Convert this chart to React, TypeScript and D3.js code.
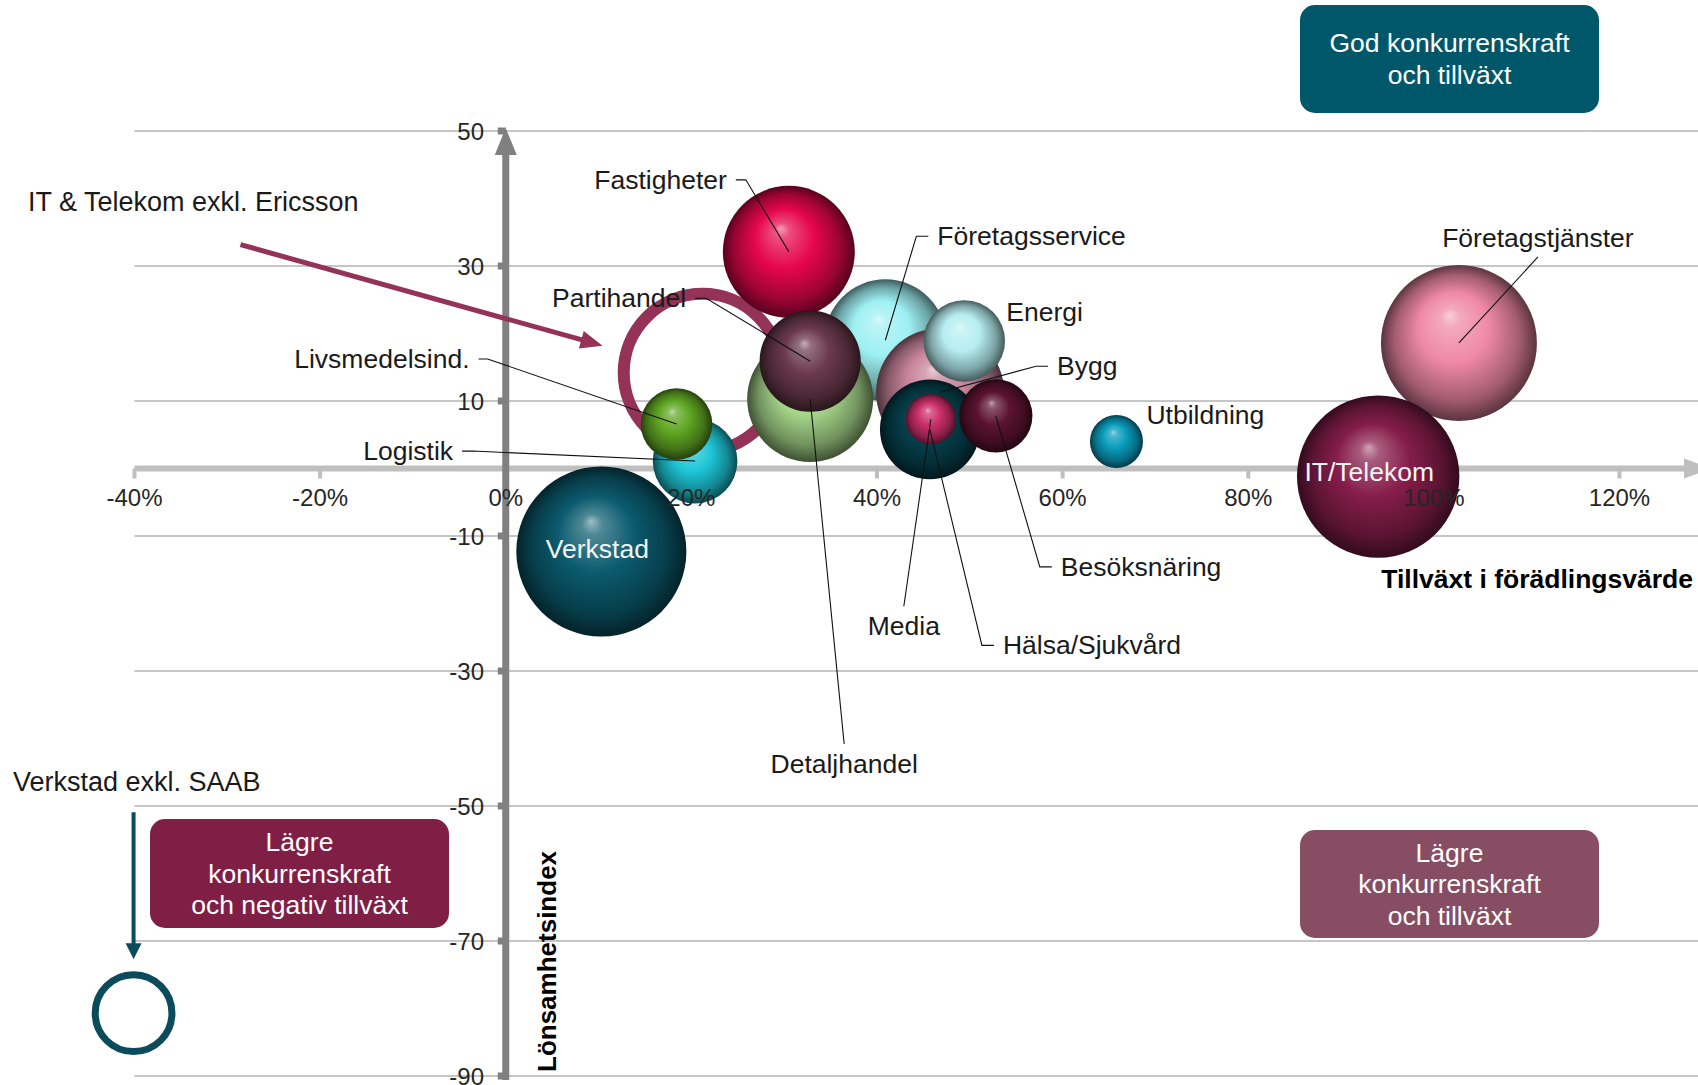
import React from "react";
import * as d3 from "d3";

const W = 1698;
const H = 1085;
const FONT = '"Liberation Sans", Arial, Helvetica, sans-serif';

// sectors, in drawing order (back to front)
const sectors = [
  "Företagsservice",
  "Fastigheter",
  "Detaljhandel",
  "Partihandel",
  "Bygg",
  "Energi",
  "Hälsa/Sjukvård",
  "Media",
  "Besöksnäring",
  "Utbildning",
  "Logistik",
  "Livsmedelsind.",
  "Verkstad",
  "Företagstjänster",
  "IT/Telekom",
];
// Tillväxt i förädlingsvärde (%)
const growth = [40.9, 30.5, 32.8, 32.8, 46.8, 49.4, 45.7, 45.8, 52.8, 65.8, 20.4, 18.4, 10.3, 102.7, 94.0];
// Lönsamhetsindex
const profitability = [19.0, 32.1, 10.3, 15.9, 11.3, 18.9, 5.8, 7.3, 7.8, 4.0, 1.1, 6.6, -12.3, 18.6, -1.2];
// bubble size (förädlingsvärde, relative)
const valueAdded = [58, 68, 62, 40, 64, 26, 39, 10, 21, 11, 28, 20, 113, 95, 103];

// excluded variants drawn as hollow rings
const exclNames = ["IT & Telekom exkl. Ericsson", "Verkstad exkl. SAAB"];
const exclGrowth = [21.2, -40.1];
const exclProfit = [14.2, -80.7];
const exclSize = [97, 23];

const xTicks = [-40, -20, 0, 20, 40, 60, 80, 100, 120];
const yTicks = [50, 30, 10, -10, -30, -50, -70, -90];

const colors: Record<string, string> = {
  "Företagsservice": "#9ef0f3",
  "Fastigheter": "#e6064f",
  "Detaljhandel": "#a6d68a",
  "Partihandel": "#6b3a4c",
  "Bygg": "#c7849b",
  "Energi": "#b6eef1",
  "Hälsa/Sjukvård": "#05404d",
  "Media": "#cc2f6c",
  "Besöksnäring": "#5c1331",
  "Utbildning": "#0a9cbc",
  "Logistik": "#1dc6d6",
  "Livsmedelsind.": "#5fa623",
  "Verkstad": "#0b5b6e",
  "Företagstjänster": "#ef88a9",
  "IT/Telekom": "#861d4b",
};
const exclColors = ["#943258", "#0b4b5b"];

// label placement relative to bubble centre (pixels)
type Lay = {
  dx: number;
  dy: number;
  anchor: "start" | "end" | "middle";
  hook?: number;
  line?: "top" | "bottom";
  inside?: boolean;
};
const layout: Record<string, Lay> = {
  "Fastigheter": { dx: -62, dy: -72, anchor: "end", hook: 10 },
  "Företagsservice": { dx: 52, dy: -104, anchor: "start", hook: 12 },
  "Energi": { dx: 42, dy: -29, anchor: "start" },
  "Bygg": { dx: 117, dy: -26, anchor: "start", hook: 12 },
  "Hälsa/Sjukvård": { dx: 73, dy: 216, anchor: "start", hook: 12 },
  "Media": { dx: -27, dy: 207, anchor: "middle", line: "top" },
  "Besöksnäring": { dx: 65, dy: 151, anchor: "start", hook: 12 },
  "Utbildning": { dx: 30, dy: -27, anchor: "start" },
  "Företagstjänster": { dx: 79, dy: -105, anchor: "middle", line: "bottom" },
  "IT/Telekom": { dx: -9, dy: -5, anchor: "middle", inside: true },
  "Partihandel": { dx: -124, dy: -63, anchor: "end", hook: 11 },
  "Detaljhandel": { dx: 34, dy: 365, anchor: "middle", line: "top" },
  "Livsmedelsind.": { dx: -207, dy: -65, anchor: "end", hook: 9 },
  "Logistik": { dx: -242, dy: -10, anchor: "end", hook: 11 },
  "Verkstad": { dx: -4, dy: -3, anchor: "middle", inside: true },
};

const boxes = [
  { lines: ["God konkurrenskraft", "och tillväxt"], x: 1300, y: 5, w: 299, h: 108, fill: "#01576a" },
  { lines: ["Lägre", "konkurrenskraft", "och tillväxt"], x: 1300, y: 830, w: 299, h: 108, fill: "#874d62" },
  { lines: ["Lägre", "konkurrenskraft", "och negativ tillväxt"], x: 150, y: 819, w: 299, h: 109, fill: "#7f1f45" },
];

const x = d3.scaleLinear().domain([-40, 120]).range([134.5, 1619.5]);
const y = d3.scaleLinear().domain([-90, 50]).range([1076, 131]);
const rScale = d3.scaleSqrt().domain([0, 100]).range([0, 80]);

const mix = (a: string, b: string, t: number) => d3.interpolateRgb(a, b)(t);

const App: React.FC = () => {
  const bubbles = sectors.map((name, i) => ({
    name,
    cx: x(growth[i]),
    cy: y(profitability[i]),
    r: rScale(valueAdded[i]),
    color: colors[name],
  }));
  const rings = exclNames.map((name, i) => ({
    name,
    cx: x(exclGrowth[i]),
    cy: y(exclProfit[i]),
    r: rScale(exclSize[i]),
    color: exclColors[i],
  }));
  const x0 = x(0);
  const y0 = y(0);
  const itRing = rings[0];
  const vRing = rings[1];

  return (
    <svg
      width={W}
      height={H}
      style={{ position: "absolute", left: 0, top: 0, display: "block", background: "#fff" }}
      fontFamily={FONT}
    >
      <defs>
        {bubbles.map((b, i) => (
          <radialGradient key={i} id={`g${i}`} cx="0.5" cy="0.5" r="0.5" fx="0.44" fy="0.32">
            <stop offset="0" stopColor={mix(b.color, "#ffffff", 0.6)} />
            <stop offset="0.12" stopColor={mix(b.color, "#ffffff", 0.28)} />
            <stop offset="0.45" stopColor={b.color} />
            <stop offset="0.8" stopColor={mix(b.color, "#000000", 0.32)} />
            <stop offset="1" stopColor={mix(b.color, "#000000", 0.62)} />
          </radialGradient>
        ))}
      </defs>
      <rect width={W} height={H} fill="#fff" />

      {/* gridlines */}
      {yTicks.map((t) => (
        <line key={t} x1={x(-40)} x2={W} y1={y(t)} y2={y(t)} stroke="#c6c6c6" strokeWidth={2} />
      ))}

      {/* x axis */}
      <line x1={x(-40)} x2={1690} y1={y0} y2={y0} stroke="#bfbfbf" strokeWidth={6} />
      <path d={`M1712,${y0} L1684,${y0 - 10} L1684,${y0 + 10} Z`} fill="#bfbfbf" />
      {xTicks.map((t) => (
        <rect key={t} x={x(t) - 2} y={y0} width={4} height={10} fill="#bfbfbf" />
      ))}

      {/* y axis */}
      <line x1={x0} x2={x0} y1={1080} y2={150} stroke="#808080" strokeWidth={7} />
      <path d={`M${x0},${y(50) - 3} L${x0 - 11},${y(50) + 24} L${x0 + 11},${y(50) + 24} Z`} fill="#808080" />
      {yTicks.map((t) => (
        <rect key={t} x={x0 - 8} y={y(t) - 3.5} width={8} height={7} fill="#808080" />
      ))}

      {/* hollow ring behind bubbles */}
      <circle cx={itRing.cx} cy={itRing.cy} r={itRing.r} fill="none" stroke={itRing.color} strokeWidth={12} />

      {/* bubbles */}
      {bubbles.map((b, i) => (
        <circle key={b.name} cx={b.cx} cy={b.cy} r={b.r} fill={`url(#g${i})`} />
      ))}

      {/* leader lines and labels */}
      {bubbles.map((b) => {
        const L = layout[b.name];
        const tx = b.cx + L.dx;
        const ty = b.cy + L.dy;
        let path = "";
        if (L.hook) {
          const dir = L.anchor === "end" ? 1 : -1;
          const h0 = tx + dir * 9;
          const h1 = h0 + dir * L.hook;
          path = `M${h0},${ty} L${h1},${ty} L${b.cx},${b.cy}`;
        } else if (L.line === "top") {
          path = `M${tx},${ty - 20} L${b.cx},${b.cy}`;
        } else if (L.line === "bottom") {
          path = `M${tx},${ty + 19} L${b.cx},${b.cy}`;
        }
        return (
          <g key={b.name}>
            {path && <path d={path} fill="none" stroke="#111" strokeWidth={1.1} />}
            <text
              x={tx}
              y={ty}
              textAnchor={L.anchor}
              dominantBaseline="central"
              fontSize={26.5}
              fill={L.inside ? "#f4f4f4" : "#1a1a1a"}
            >
              {b.name}
            </text>
          </g>
        );
      })}

      {/* tick labels */}
      {xTicks.map((t) => (
        <text key={t} x={x(t)} y={497} textAnchor="middle" dominantBaseline="central" fontSize={24} fill="#262626">
          {`${t}%`}
        </text>
      ))}
      {yTicks.map((t) => (
        <text key={t} x={484} y={y(t)} textAnchor="end" dominantBaseline="central" fontSize={24} fill="#262626">
          {t}
        </text>
      ))}

      {/* axis titles */}
      <text x={1693} y={579} textAnchor="end" dominantBaseline="central" fontSize={26.5} fontWeight="bold" fill="#000">
        Tillväxt i förädlingsvärde
      </text>
      <text
        transform={`translate(547,1072) rotate(-90)`}
        textAnchor="start"
        dominantBaseline="central"
        fontSize={26}
        fontWeight="bold"
        fill="#000"
      >
        Lönsamhetsindex
      </text>

      {/* IT & Telekom exkl. Ericsson annotation */}
      <text x={28} y={itRing.cy - 171} dominantBaseline="central" fontSize={27} fill="#1a1a1a">
        {exclNames[0]}
      </text>
      <line
        x1={itRing.cx - 462}
        y1={itRing.cy - 128}
        x2={itRing.cx - 116}
        y2={itRing.cy - 31.5}
        stroke={itRing.color}
        strokeWidth={5}
      />
      {(() => {
        const tx = itRing.cx - 100;
        const ty = itRing.cy - 27;
        const ang = Math.atan2(ty - (itRing.cy - 128), tx - (itRing.cx - 462));
        const len = 22;
        const hw = 9;
        const bx = tx - len * Math.cos(ang);
        const by = ty - len * Math.sin(ang);
        const px = -Math.sin(ang) * hw;
        const py = Math.cos(ang) * hw;
        return <path d={`M${tx},${ty} L${bx + px},${by + py} L${bx - px},${by - py} Z`} fill={itRing.color} />;
      })()}

      {/* Verkstad exkl. SAAB annotation */}
      <text x={13} y={vRing.cy - 231} dominantBaseline="central" fontSize={27} fill="#1a1a1a">
        {exclNames[1]}
      </text>
      <line x1={vRing.cx} x2={vRing.cx} y1={vRing.cy - 201} y2={vRing.cy - 66} stroke={vRing.color} strokeWidth={4} />
      <path
        d={`M${vRing.cx},${vRing.cy - 54} L${vRing.cx - 8},${vRing.cy - 70} L${vRing.cx + 8},${vRing.cy - 70} Z`}
        fill={vRing.color}
      />
      <circle cx={vRing.cx} cy={vRing.cy} r={vRing.r} fill="none" stroke={vRing.color} strokeWidth={7} />

      {/* quadrant boxes */}
      {boxes.map((bx, i) => {
        const cy = bx.y + bx.h / 2;
        const step = 31.5;
        const start = cy - ((bx.lines.length - 1) * step) / 2;
        return (
          <g key={i}>
            <rect x={bx.x} y={bx.y} width={bx.w} height={bx.h} rx={15} ry={15} fill={bx.fill} />
            {bx.lines.map((ln, j) => (
              <text
                key={j}
                x={bx.x + bx.w / 2}
                y={start + j * step}
                textAnchor="middle"
                dominantBaseline="central"
                fontSize={26.5}
                fill="#fff"
              >
                {ln}
              </text>
            ))}
          </g>
        );
      })}
    </svg>
  );
};

export default App;
